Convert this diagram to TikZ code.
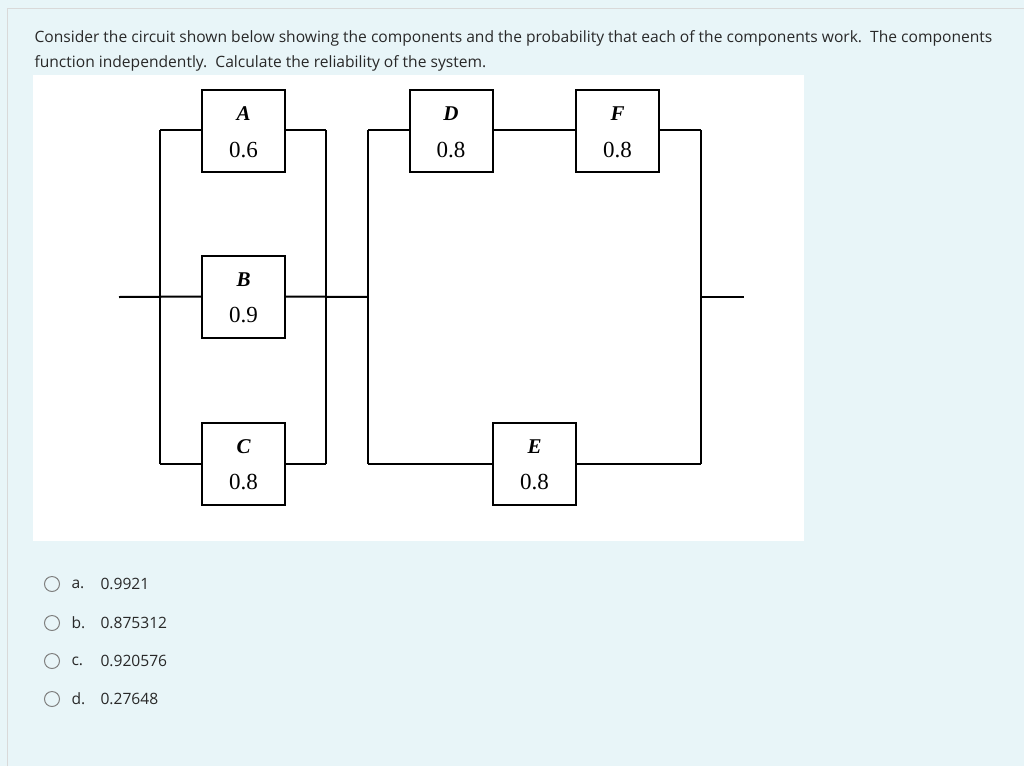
\documentclass[tikz,border=0pt]{standalone}
\usepackage{fontspec}
\setmainfont{Open Sans}
\newfontfamily\timesfont{Liberation Serif}
\definecolor{pagebg}{RGB}{232,245,248}
\definecolor{textcol}{RGB}{40,40,40}
\tikzset{
  comp/.style={draw, line width=2pt, minimum width=83pt, minimum height=82pt, inner sep=0pt},
  wire/.style={line width=2pt},
  radio/.style={draw=gray, line width=1pt, circle, minimum size=15pt, inner sep=0pt},
}
\begin{document}
\begin{tikzpicture}[x=1pt,y=-1pt,font=\fontsize{15.6pt}{18pt}\selectfont,text=textcol]
\useasboundingbox (0,0) rectangle (1024,766);
\fill[pagebg] (0,0) rectangle (1024,766);
\draw[gray!30] (7,766) -- (7,8) -- (1024,8);
% question text
\node[anchor=west] (q1) at (31,38) {Consider the circuit shown below showing the components and the probability that each of the components work.\ \ The components};
\node[anchor=west] (q2) at (31,63) {function independently.\ \ Calculate the reliability of the system.};
% diagram area
\fill[white] (33,75) rectangle (804,541);
% components
\foreach \n/\x/\y in {A/243.5/131, B/243.5/296.5, C/243.5/463.5,
                      D/451/131, F/617.5/131, E/534.5/463.5}
  \node[comp] (\n) at (\x,\y) {};
\foreach \n/\l/\p in {A/A/0.6, B/B/0.9, C/C/0.8, D/D/0.8, F/F/0.8, E/E/0.8} {
  \node[font=\timesfont\bfseries\itshape\fontsize{21pt}{22pt}\selectfont, text=black] (\n-l) at ([yshift=17pt]\n.center) {\l};
  \node[font=\timesfont\fontsize{23pt}{24pt}\selectfont, text=black] (\n-p) at ([yshift=-19pt]\n.center) {\p};
}
% junctions
\coordinate (in) at (119,297);
\coordinate (out) at (744,297);
\coordinate (L1t) at (160,130); \coordinate (L1b) at (160,464);
\coordinate (R1t) at (326,130); \coordinate (R1b) at (326,464);
\coordinate (L2t) at (368,130); \coordinate (L2b) at (368,464);
\coordinate (R2t) at (701,130); \coordinate (R2b) at (701,464);
% wires
\draw[wire] (L1t) -- (L1b);
\draw[wire] (R1t) -- (R1b);
\draw[wire] (L2t) -- (L2b);
\draw[wire] (R2t) -- (R2b);
\draw[wire] (in) -- (B.west);
\draw[wire] (B.east) -- (368,297);
\draw[wire] (L1t) -- (L1t -| A.west);  \draw[wire] (A.east |- R1t) -- (R1t);
\draw[wire] (L1b) -- (L1b -| C.west);  \draw[wire] (C.east |- R1b) -- (R1b);
\draw[wire] (L2t) -- (L2t -| D.west);  \draw[wire] (D.east |- L2t) -- (F.west |- L2t);
\draw[wire] (F.east |- R2t) -- (R2t);
\draw[wire] (L2b) -- (L2b -| E.west);  \draw[wire] (E.east |- R2b) -- (R2b);
\draw[wire] (701,297) -- (out);
% answers
\foreach \k/\y/\v in {a./584/0.9921, b./623/0.875312, c./661/0.920576, d./699/0.27648} {
  \node[radio] (r\v) at (52,\y) {};
  \node[anchor=west] (k\v) at (68,\y) {\k};
  \node[anchor=west] (v\v) at (97,\y) {\v};
}
\end{tikzpicture}
\end{document}
